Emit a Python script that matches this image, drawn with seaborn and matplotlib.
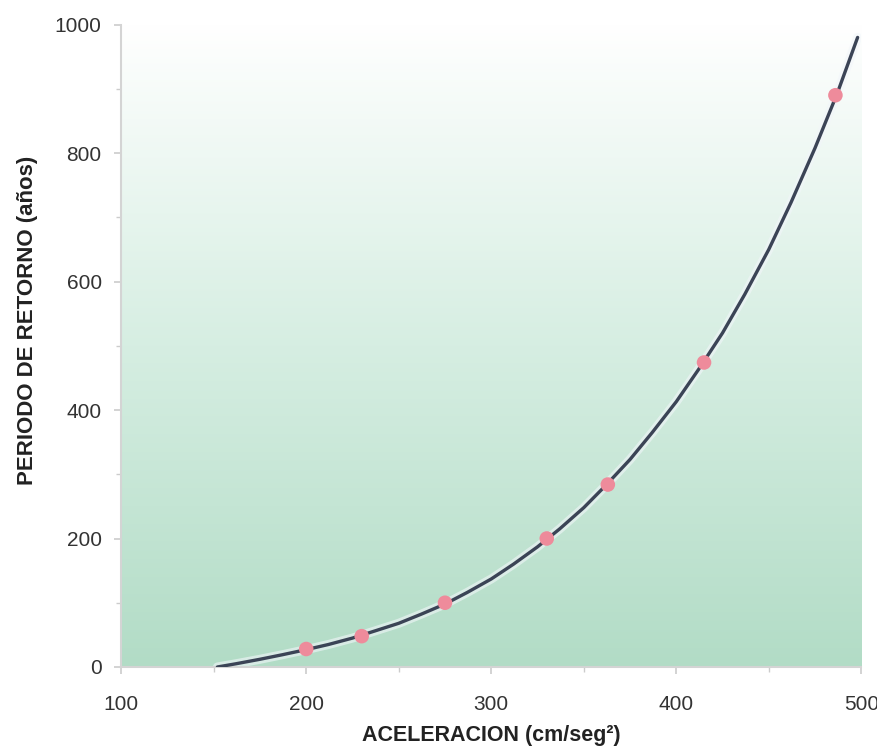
import numpy as np
import pandas as pd
import seaborn as sns
import matplotlib.pyplot as plt
from matplotlib.colors import LinearSegmentedColormap

# puntos observados (aceleracion, periodo de retorno)
acel = [200, 230, 275, 330, 363, 415, 486]
periodo = [28, 48, 100, 200, 284, 474, 890]

# curva ajustada
curva_x = [152, 162, 175, 187, 200, 212, 225, 237, 250, 262, 275, 287, 300, 312, 325,
           337, 350, 362, 375, 387, 400, 412, 425, 437, 450, 462, 475, 487, 498]
curva_y = [0, 5, 12, 19, 27, 35, 45, 56, 68, 82, 98, 116, 137, 160, 187,
           215, 248, 283, 323, 365, 413, 463, 520, 580, 650, 723, 808, 893, 980]

puntos = pd.DataFrame({'acel': acel, 'periodo': periodo})
curva = pd.DataFrame({'x': curva_x, 'y': curva_y})

sns.set_style('white')
plt.rcParams['font.family'] = ['Liberation Sans', 'DejaVu Sans']

fig = plt.figure(figsize=(8.78, 7.54), dpi=100)
ax = fig.add_axes([0.138, 0.1154, 0.843, 0.852])

# fondo degradado blanco -> verde
cmap = LinearSegmentedColormap.from_list('fondo', ['#b2dcc6', '#d6eee2', '#ffffff'])
grad = np.linspace(0, 1, 256).reshape(-1, 1)
ax.imshow(grad, cmap=cmap, aspect='auto', extent=[0, 1, 0, 1],
          transform=ax.transAxes, origin='lower', zorder=0)

sns.lineplot(data=curva, x='x', y='y', ax=ax, color='#f2f6fa', lw=6.5, alpha=0.6, zorder=2)
sns.lineplot(data=curva, x='x', y='y', ax=ax, color='#3b4456', lw=2.4, zorder=3)
sns.scatterplot(data=puntos, x='acel', y='periodo', ax=ax, color='#ee8b9b',
                s=110, marker='o', edgecolor='none', zorder=4)

ax.set_xlim(100, 500)
ax.set_ylim(0, 1000)
ax.set_xticks([100, 200, 300, 400, 500])
ax.set_xticks([150, 250, 350, 450], minor=True)
ax.set_yticks([0, 200, 400, 600, 800, 1000])
ax.set_yticks([100, 300, 500, 700, 900], minor=True)

for s in ['top', 'right']:
    ax.spines[s].set_visible(False)
for s in ['left', 'bottom']:
    ax.spines[s].set_color('#d4d4d4')
    ax.spines[s].set_linewidth(1.5)

ax.tick_params(which='both', direction='out', bottom=True, left=True,
               color='#cccccc', labelcolor='#333333')
ax.tick_params(which='major', length=5, width=1.2, labelsize=15)
ax.tick_params(which='minor', length=3.5, width=1)
ax.tick_params(axis='x', which='major', pad=15)
ax.tick_params(axis='y', which='major', pad=9)

ax.set_xlabel('ACELERACION (cm/seg²)', fontsize=15.5, fontweight='bold',
              color='#222222')
ax.set_ylabel('PERIODO DE RETORNO (años)', fontsize=16, fontweight='bold',
              color='#222222')
ax.xaxis.set_label_coords(0.5, -0.09)
ax.yaxis.set_label_coords(-0.113, 0.54)

fig.savefig('out.png', dpi=100)
